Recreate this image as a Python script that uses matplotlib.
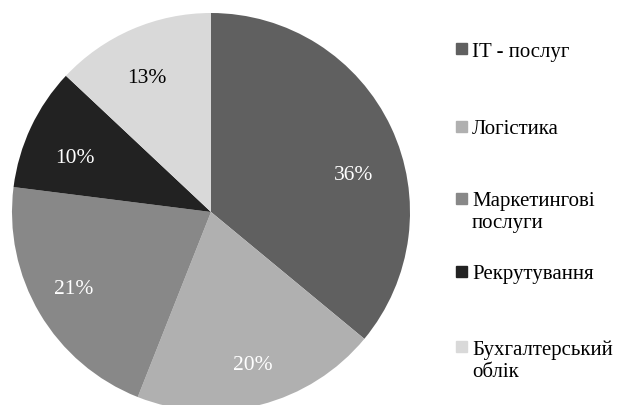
import numpy as np
import matplotlib.pyplot as plt
from matplotlib.patches import Rectangle

# дані з діаграми
labels = ["IT - послуг", "Логістика", "Маркетингові\nпослуги", "Рекрутування", "Бухгалтерський\nоблік"]
shares = [36, 20, 21, 10, 13]
colors = ["#606060", "#b0b0b0", "#888888", "#222222", "#d9d9d9"]
pct_colors = ["white", "white", "white", "white", "black"]

# розташування підписів (кут від осі x у градусах, частка радіуса)
pct_angle = [15, -74.5, -151, 158, 115.5]
pct_r = [0.74, 0.795, 0.79, 0.735, 0.75]

plt.rcParams["font.family"] = "serif"
plt.rcParams["font.serif"] = ["Liberation Serif", "DejaVu Serif"]

fig = plt.figure(figsize=(6.19, 4.06), dpi=100)
ax = fig.add_axes([12 / 619, -6 / 406, 398 / 619, 398 / 406])

wedges, texts, autotexts = ax.pie(
    shares, colors=colors, startangle=90, counterclock=False,
    autopct="%1.0f%%", radius=1.0,
)
for t, c, ang, r in zip(autotexts, pct_colors, pct_angle, pct_r):
    t.set_color(c)
    t.set_fontsize(15.5)
    t.set_va("center_baseline")
    a = np.deg2rad(ang)
    t.set_position((r * np.cos(a), r * np.sin(a) + 0.01))
ax.set_aspect("equal")
ax.set_xlim(-1, 1)
ax.set_ylim(-1, 1)

# легенда вручну (центри квадратиків у пікселях зверху)
marker_y = [49.5, 127, 199, 272, 347.5]
for lab, col, y in zip(labels, colors, marker_y):
    fig.patches.append(Rectangle((456 / 619, 1 - (y + 5.5) / 406), 10.5 / 619, 11 / 406,
                                 transform=fig.transFigure, color=col))
    for i, line in enumerate(lab.split("\n")):
        fig.text(472 / 619, 1 - (y + 7.5 + 22 * i) / 406, line, fontsize=15,
                 va="baseline", ha="left", transform=fig.transFigure)

fig.savefig("out.png", dpi=100)
